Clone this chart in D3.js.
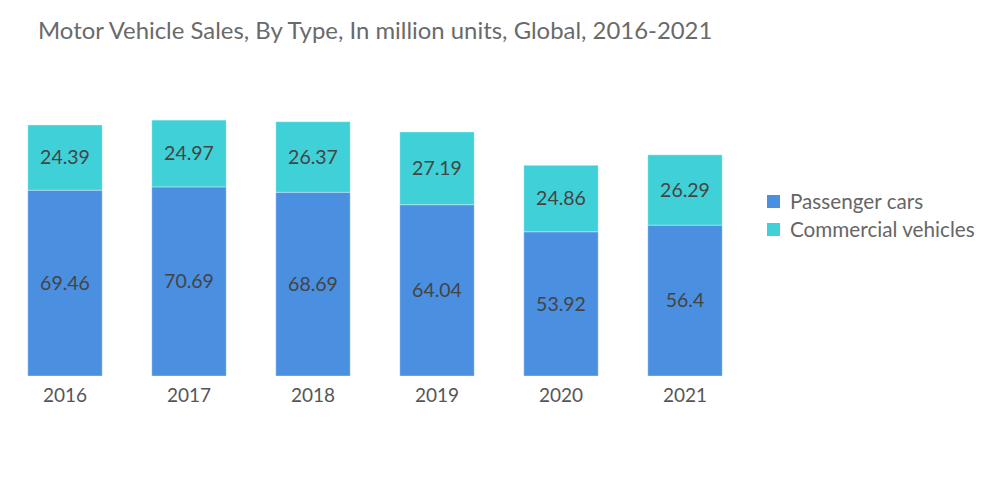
<!DOCTYPE html>
<html>
<head>
<meta charset="utf-8">
<script src="https://cdn.jsdelivr.net/npm/d3@7"></script>
<style>
  body { margin: 0; background: #fff; }
  svg { font-family: Lato, "Open Sans", sans-serif; }
</style>
</head>
<body>
<svg id="chart" width="1000" height="504"></svg>
<script>
const years = ["2016", "2017", "2018", "2019", "2020", "2021"];
const passenger = [69.46, 70.69, 68.69, 64.04, 53.92, 56.4];
const commercial = [24.39, 24.97, 26.37, 27.19, 24.86, 26.29];
const seriesNames = ["Passenger cars", "Commercial vehicles"];
const colors = ["#4a8fe0", "#40d0d8"];

const svg = d3.select("svg#chart");

svg.append("text")
    .attr("x", 38)
    .attr("y", 39)
    .attr("fill", "#6a6a6a")
    .attr("font-size", 23.9)
    .text("Motor Vehicle Sales, By Type, In million units, Global, 2016-2021");

const rows = years.map((y, i) => ({year: y, p: passenger[i], c: commercial[i]}));
const stacked = d3.stack().keys(["p", "c"])(rows);

const x = d3.scaleBand()
    .domain(years)
    .range([3, 747])
    .paddingInner(0.4)
    .paddingOuter(0.2);

const y = d3.scaleLinear()
    .domain([0, 100])
    .range([376, 108.5]);

const g = svg.append("g");

stacked.forEach((layer, k) => {
    g.selectAll(null)
        .data(layer)
        .enter()
        .append("rect")
        .attr("x", d => x(d.data.year))
        .attr("y", d => y(d[1]))
        .attr("width", x.bandwidth())
        .attr("height", d => y(d[0]) - y(d[1]))
        .attr("fill", colors[k])
        .attr("stroke", "#ffffff")
        .attr("stroke-opacity", 0.35)
        .attr("stroke-width", 1);

    g.selectAll(null)
        .data(layer)
        .enter()
        .append("text")
        .attr("x", d => x(d.data.year) + x.bandwidth() / 2)
        .attr("y", d => (y(d[0]) + y(d[1])) / 2)
        .attr("dy", "0.35em")
        .attr("text-anchor", "middle")
        .attr("fill", "#444")
        .attr("font-size", 19.5)
        .text(d => String(k === 0 ? d.data.p : d.data.c));
});

const xAxis = svg.append("g")
    .attr("transform", "translate(0,376)")
    .call(d3.axisBottom(x).tickSize(0).tickPadding(13));
xAxis.select(".domain").remove();
xAxis.selectAll("text")
    .attr("font-family", "Lato, 'Open Sans', sans-serif")
    .attr("font-size", 19)
    .attr("fill", "#555");

const legend = svg.append("g").attr("transform", "translate(767,195)");
seriesNames.forEach((name, i) => {
    const row = legend.append("g").attr("transform", `translate(0,${i * 28})`);
    row.append("rect")
        .attr("width", 13)
        .attr("height", 13)
        .attr("fill", colors[i]);
    row.append("text")
        .attr("x", 23)
        .attr("y", 6.5)
        .attr("dy", "0.35em")
        .attr("fill", "#666")
        .attr("font-size", 20.7)
        .text(name);
});
</script>
</body>
</html>
